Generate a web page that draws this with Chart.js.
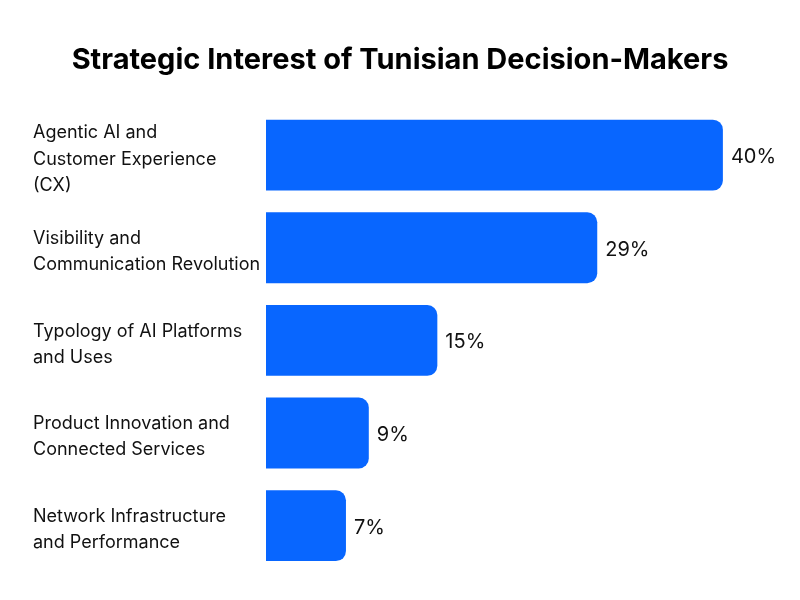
<!DOCTYPE html>
<html>
<head>
<meta charset="utf-8">
<script src="https://cdn.jsdelivr.net/npm/chart.js@4"></script>
<style>
	html, body { margin: 0; padding: 0; background: #fff; }
	#wrap { width: 800px; height: 600px; }
</style>
</head>
<body>
<div id="wrap"><canvas id="interestChart"></canvas></div>
<script>
// themes (labels split on several lines like in the source)
const themes = [
	["Agentic AI and", "Customer Experience", "(CX)"],
	["Visibility and", "Communication Revolution"],
	["Typology of AI Platforms", "and Uses"],
	["Product Innovation and", "Connected Services"],
	["Network Infrastructure", "and Performance"],
];
const shares = [40, 29, 15, 9, 7]; // en %

const barColor = "#0866ff";

// petit plugin pour écrire le % au bout de chaque barre
const valueLabels = {
	id: "valueLabels",
	afterLayout(chart) {
		// padding gauche/droite symétrique pour centrer le titre,
		// on décale juste les labels de l'axe y
		chart.scales.y.left = 33;
	},
	afterDatasetsDraw(chart) {
		const ctx = chart.ctx;
		const meta = chart.getDatasetMeta(0);
		ctx.save();
		ctx.font = "20px Inter";
		ctx.fillStyle = "#111";
		ctx.textAlign = "left";
		ctx.textBaseline = "middle";
		meta.data.forEach((bar, i) => {
			ctx.fillText(shares[i] + "%", bar.x + 8, bar.y + 2);
		});
		ctx.restore();
	},
};

new Chart(document.getElementById("interestChart"), {
	type: "bar",
	data: {
		labels: themes,
		datasets: [
			{
				data: shares,
				backgroundColor: barColor,
				borderRadius: 10,
				borderSkipped: "start",
				categoryPercentage: 1,
				barPercentage: 0.765,
			},
		],
	},
	options: {
		indexAxis: "y",
		responsive: true,
		maintainAspectRatio: false,
		animation: false,
		layout: {
			padding: { left: 20, right: 20, top: 0, bottom: 28 },
		},
		plugins: {
			legend: { display: false },
			tooltip: { enabled: false },
			title: {
				display: true,
				text: "Strategic Interest of Tunisian Decision-Makers",
				color: "#000",
				font: { family: "Inter", size: 29, weight: "bold", lineHeight: 1.2 },
				padding: { top: 43, bottom: 31 },
			},
		},
		scales: {
			x: {
				display: false,
				min: 0,
				max: 45,
			},
			y: {
				grid: { display: false },
				border: { display: false },
				afterFit(scale) {
					scale.width = 246;
					// sinon le label sur 3 lignes pousse la zone vers le haut
					scale.paddingTop = 0;
					scale.paddingBottom = 0;
				},
				ticks: {
					crossAlign: "far",
					labelOffset: 4,
					color: "#111",
					font: { family: "Inter", size: 18, lineHeight: 1.45 },
				},
			},
		},
	},
	plugins: [valueLabels],
});
</script>
</body>
</html>
